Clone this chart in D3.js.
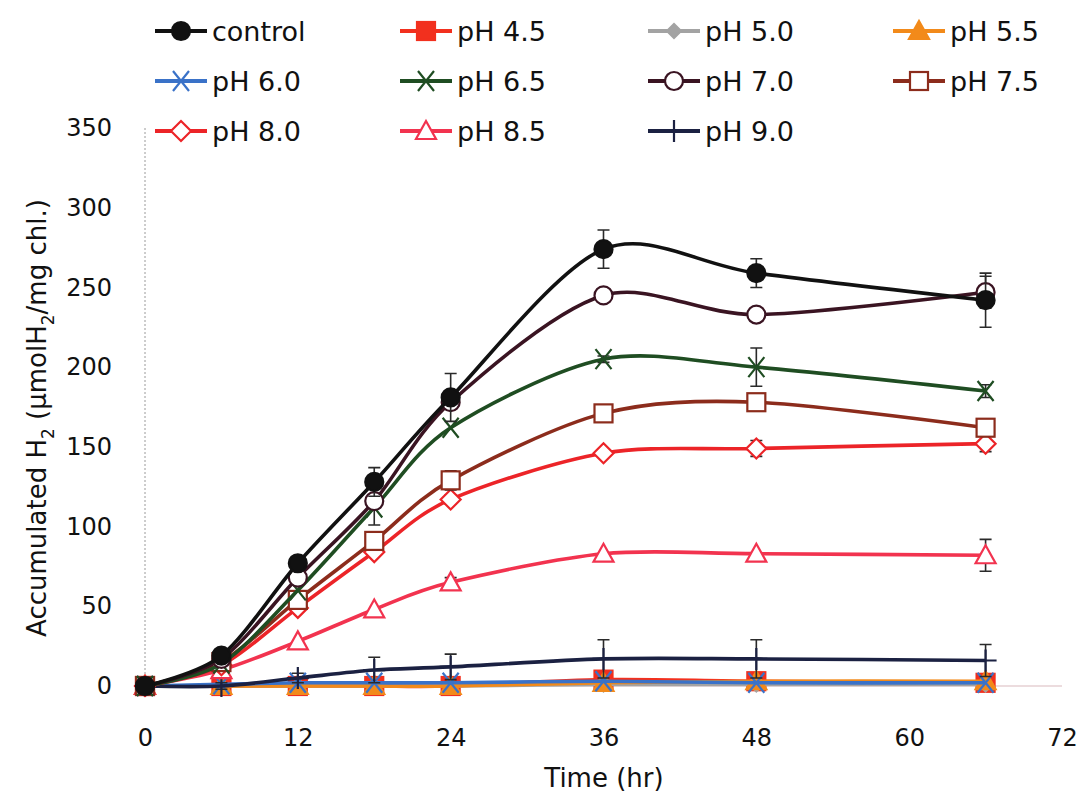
<!DOCTYPE html>
<html lang="en">
  <head>
    <meta charset="UTF-8" />
    <title>Accumulated H2 by pH</title>
    <style>
      body { margin: 0; background: #fff; }
      text { font-family: "DejaVu Sans", sans-serif; fill: #111; }
    </style>
  </head>
  <body>
    <div id="chart"></div>
    <script src="https://cdn.jsdelivr.net/npm/d3@7/dist/d3.min.js"></script>
    <script>

      // data
      var hours = [0, 6, 12, 18, 24, 36, 48, 66];
      var xTicks = [0, 12, 24, 36, 48, 60, 72];
      var yTicks = [0, 50, 100, 150, 200, 250, 300, 350];

      var control = [0, 19, 77, 128, 181, 274, 259, 242];
      var ph45 = [0, 0, 0, 0, 0, 4, 3, 2];
      var ph50 = [0, 0, 0, 0, 0, 1, 1, 1];
      var ph55 = [0, 0, 0, 0, 0, 2, 3, 3];
      var ph60 = [0, 1, 2, 2, 2, 3, 2, 2];
      var ph65 = [0, 14, 60, 112, 162, 205, 200, 185];
      var ph70 = [0, 17, 68, 116, 178, 245, 233, 247];
      var ph75 = [0, 15, 54, 91, 129, 171, 178, 162];
      var ph80 = [0, 13, 49, 84, 117, 146, 149, 152];
      var ph85 = [0, 10, 28, 48, 65, 83, 83, 82];
      var ph90 = [0, 0, 5, 10, 12, 17, 17, 16];

      // standard deviations (error bars)
      var controlErr = [0, 2, 4, 9, 15, 12, 9, 17];
      var ph70Err = [0, 2, 3, 15, 4, 4, 2, 10];
      var ph65Err = [0, 0, 0, 0, 0, 2, 12, 4];
      var ph75Err = [0, 0, 0, 3, 6, 0, 0, 0];
      var ph80Err = [0, 0, 0, 0, 3, 0, 5, 5];
      var ph85Err = [0, 0, 0, 0, 3, 0, 0, 10];
      var ph90Err = [0, 2, 3, 8, 8, 12, 12, 10];
      var noErr = [0, 0, 0, 0, 0, 0, 0, 0];

      var legendNames = ["control", "pH 4.5", "pH 5.0", "pH 5.5", "pH 6.0", "pH 6.5",
                         "pH 7.0", "pH 7.5", "pH 8.0", "pH 8.5", "pH 9.0"];

      var series = [
        { name: "control", values: control, err: controlErr, color: "#111111", marker: "circle", fill: true },
        { name: "pH 4.5", values: ph45, err: noErr, color: "#f2301e", marker: "square", fill: true },
        { name: "pH 5.0", values: ph50, err: noErr, color: "#a3a3a3", marker: "diamond", fill: true },
        { name: "pH 5.5", values: ph55, err: noErr, color: "#f28a1a", marker: "triangle", fill: true },
        { name: "pH 6.0", values: ph60, err: noErr, color: "#3a72c8", marker: "x", fill: false },
        { name: "pH 6.5", values: ph65, err: ph65Err, color: "#1f4d22", marker: "x", fill: false },
        { name: "pH 7.0", values: ph70, err: ph70Err, color: "#3a1422", marker: "circle", fill: false },
        { name: "pH 7.5", values: ph75, err: ph75Err, color: "#8c2c1c", marker: "square", fill: false },
        { name: "pH 8.0", values: ph80, err: ph80Err, color: "#ec2428", marker: "diamond", fill: false },
        { name: "pH 8.5", values: ph85, err: ph85Err, color: "#f2334f", marker: "triangle", fill: false },
        { name: "pH 9.0", values: ph90, err: ph90Err, color: "#1b2142", marker: "plus", fill: false }
      ];

      var W = 1086, H = 792;
      var svg = d3.select("#chart").append("svg")
                  .attr("width", W)
                  .attr("height", H);

      //scales
      var xScale = d3.scaleLinear().domain([0, 72]).range([145, 1062]);
      var yScale = d3.scaleLinear().domain([0, 350]).range([686, 128]);

      //axis lines (faint)
      svg.append("line")
         .attr("x1", xScale(0)).attr("x2", xScale(0))
         .attr("y1", yScale(350)).attr("y2", yScale(0))
         .attr("stroke", "#9a9a9a")
         .attr("stroke-width", 1)
         .attr("stroke-dasharray", "2,2");
      svg.append("line")
         .attr("x1", xScale(0)).attr("x2", xScale(72))
         .attr("y1", yScale(0)).attr("y2", yScale(0))
         .attr("stroke", "#d9b9bd")
         .attr("stroke-width", 1);

      //axes, drawn with d3 axes but without domain/ticks
      var xAxis = d3.axisBottom(xScale).tickValues(xTicks).tickSize(0).tickPadding(43);
      var yAxis = d3.axisLeft(yScale).tickValues(yTicks).tickSize(0).tickPadding(33);
      var gx = svg.append("g")
         .attr("transform", "translate(0," + yScale(0) + ")")
         .call(xAxis);
      var gy = svg.append("g")
         .attr("transform", "translate(" + xScale(0) + ",0)")
         .call(yAxis);
      [gx, gy].forEach(function(g) {
        g.select(".domain").remove();
        g.selectAll("text")
         .attr("fill", "#111")
         .style("font-family", "'DejaVu Sans', sans-serif")
         .style("font-size", "24px");
      });

      //axis labels
      svg.append("text")
         .attr("text-anchor", "middle")
         .attr("x", 604)
         .attr("y", 787)
         .style("font-size", "26px")
         .text("Time (hr)");

      var yLab = svg.append("text")
         .attr("text-anchor", "middle")
         .attr("transform", "translate(46,418)rotate(-90)")
         .style("font-size", "26px");
      yLab.append("tspan").text("Accumulated H");
      yLab.append("tspan").attr("dy", 8).style("font-size", "17px").text("2");
      yLab.append("tspan").attr("dy", -8).text(" (µmolH");
      yLab.append("tspan").attr("dy", 8).style("font-size", "17px").text("2");
      yLab.append("tspan").attr("dy", -8).text("/mg chl.)");

      //markers
      function drawMarker(g, s, cx, cy) {
        var fill = s.fill ? s.color : "#fff";
        var sw = 2.2;
        if (s.marker == "circle") {
          g.append("circle").attr("cx", cx).attr("cy", cy).attr("r", 9)
           .attr("fill", fill).attr("stroke", s.color).attr("stroke-width", sw);
        } else if (s.marker == "square") {
          g.append("rect").attr("x", cx - 9).attr("y", cy - 9).attr("width", 18).attr("height", 18)
           .attr("fill", fill).attr("stroke", s.color).attr("stroke-width", sw);
        } else if (s.marker == "diamond") {
          var d = s.fill ? 7 : 10;
          g.append("path")
           .attr("d", "M" + cx + "," + (cy - d) + "L" + (cx + d) + "," + cy + "L" + cx + "," + (cy + d) + "L" + (cx - d) + "," + cy + "Z")
           .attr("fill", fill).attr("stroke", s.color).attr("stroke-width", sw);
        } else if (s.marker == "triangle") {
          g.append("path")
           .attr("d", "M" + cx + "," + (cy - 10) + "L" + (cx + 10) + "," + (cy + 8) + "L" + (cx - 10) + "," + (cy + 8) + "Z")
           .attr("fill", fill).attr("stroke", s.color).attr("stroke-width", sw);
        } else if (s.marker == "x") {
          g.append("path")
           .attr("d", "M" + (cx - 8) + "," + (cy - 10) + "L" + (cx + 8) + "," + (cy + 10) + "M" + (cx + 8) + "," + (cy - 10) + "L" + (cx - 8) + "," + (cy + 10))
           .attr("fill", "none").attr("stroke", s.color).attr("stroke-width", sw);
        } else if (s.marker == "plus") {
          g.append("path")
           .attr("d", "M" + cx + "," + (cy - 11) + "L" + cx + "," + (cy + 11) + "M" + (cx - 11) + "," + cy + "L" + (cx + 11) + "," + cy)
           .attr("fill", "none").attr("stroke", s.color).attr("stroke-width", sw);
        }
      }

      var line = d3.line()
                   .x(function(d) { return xScale(d.t); })
                   .y(function(d) { return yScale(d.v); })
                   .curve(d3.curveCardinal.tension(0.1));

      // low curves first, control on top
      var drawOrder = ["pH 4.5", "pH 5.0", "pH 5.5", "pH 6.0", "pH 9.0", "pH 8.5",
                       "pH 8.0", "pH 7.5", "pH 6.5", "pH 7.0", "control"];

      drawOrder.forEach(function(name) {
        var s = series.find(function(d) { return d.name == name; });
        var pts = hours.map(function(t, i) { return { t: t, v: s.values[i], e: s.err[i] }; });
        var g = svg.append("g").attr("class", "series");

        //error bars
        pts.forEach(function(p) {
          if (p.e <= 0) return;
          var x = xScale(p.t), y0 = yScale(p.v - p.e), y1 = yScale(p.v + p.e);
          g.append("path")
           .attr("d", "M" + x + "," + y0 + "L" + x + "," + y1 +
                      "M" + (x - 6) + "," + y0 + "L" + (x + 6) + "," + y0 +
                      "M" + (x - 6) + "," + y1 + "L" + (x + 6) + "," + y1)
           .attr("fill", "none")
           .attr("stroke", "#2a2a2a")
           .attr("stroke-width", 1.6);
        });

        g.append("path")
         .datum(pts)
         .attr("d", line)
         .attr("fill", "none")
         .attr("stroke", s.color)
         .attr("stroke-width", 3.6);

        pts.forEach(function(p) {
          drawMarker(g, s, xScale(p.t), yScale(p.v));
        });
      });

      //legend
      var legX = [155, 400, 648, 893];
      var legY = [31, 81, 131];
      legendNames.forEach(function(name, i) {
        var s = series.find(function(d) { return d.name == name; });
        var lx = legX[i % 4], ly = legY[Math.floor(i / 4)];
        var g = svg.append("g").attr("class", "legend");
        g.append("line")
         .attr("x1", lx).attr("x2", lx + 52)
         .attr("y1", ly).attr("y2", ly)
         .attr("stroke", s.color)
         .attr("stroke-width", 4);
        drawMarker(g, s, lx + 26, ly);
        g.append("text")
         .attr("x", lx + 57)
         .attr("y", ly + 10)
         .style("font-size", "27px")
         .text(name);
      });

    </script>
  </body>
</html>
